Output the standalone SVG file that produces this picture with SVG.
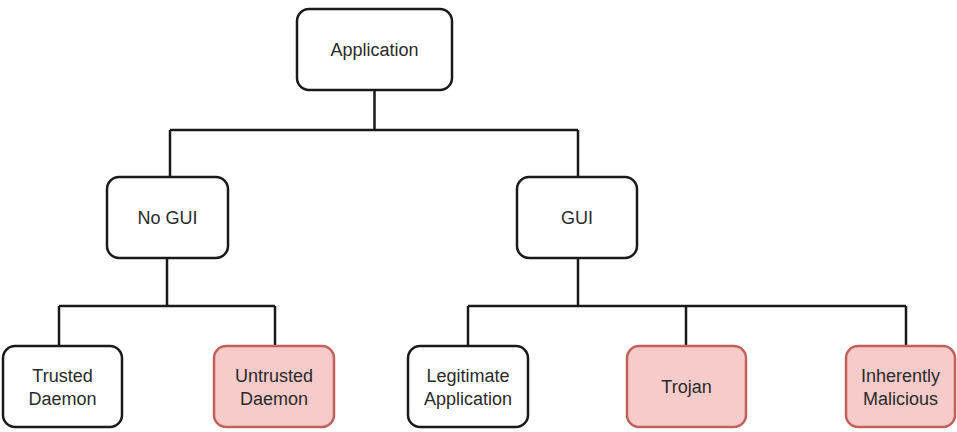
<svg xmlns="http://www.w3.org/2000/svg" width="957" height="432" viewBox="0 0 957 432">
<style>
.box{fill:#ffffff;stroke:#1a1a1a;stroke-width:2.5}
.bad{fill:#f6cbc9;stroke:#c2605c;stroke-width:2.5}
.lbl{font-family:"Liberation Sans",Arial,sans-serif;font-size:18px;fill:#2a2a2a;text-anchor:middle}
.edge{fill:none;stroke:#1a1a1a;stroke-width:2.5}
</style>
<rect width="957" height="432" fill="#ffffff"/>
<g id="connectors">
<path class="edge" d="M374.5 90 V130 M170 130 H578 M170 130 V177 M578 130 V177"/>
<path class="edge" d="M167 258 V306 M59 306 H275 M59 306 V346 M275 306 V346"/>
<path class="edge" d="M578 258 V306 M468 306 H906 M468 306 V346 M686 306 V346 M906 306 V346"/>
</g>
<g id="application"><rect class="box" x="297" y="9" width="155" height="81" rx="12"/><text class="lbl" x="374.5" y="56">Application</text></g>
<g id="nogui"><rect class="box" x="107" y="177" width="121" height="81" rx="12"/><text class="lbl" x="167.5" y="224">No GUI</text></g>
<g id="gui"><rect class="box" x="517" y="177" width="120" height="81" rx="12"/><text class="lbl" x="577" y="224">GUI</text></g>
<g id="trusted"><rect class="box" x="3" y="346" width="119" height="81" rx="12"/><text class="lbl" x="62.5" y="382">Trusted</text><text class="lbl" x="62.5" y="405">Daemon</text></g>
<g id="untrusted"><rect class="bad" x="214" y="346" width="120" height="81" rx="12"/><text class="lbl" x="274" y="382">Untrusted</text><text class="lbl" x="274" y="405">Daemon</text></g>
<g id="legitimate"><rect class="box" x="408" y="346" width="120" height="81" rx="12"/><text class="lbl" x="468" y="382">Legitimate</text><text class="lbl" x="468" y="405">Application</text></g>
<g id="trojan"><rect class="bad" x="627" y="346" width="119" height="81" rx="12"/><text class="lbl" x="686.5" y="393">Trojan</text></g>
<g id="malicious"><rect class="bad" x="846" y="346" width="109" height="81" rx="12"/><text class="lbl" x="900.5" y="382">Inherently</text><text class="lbl" x="900.5" y="405">Malicious</text></g>
</svg>
